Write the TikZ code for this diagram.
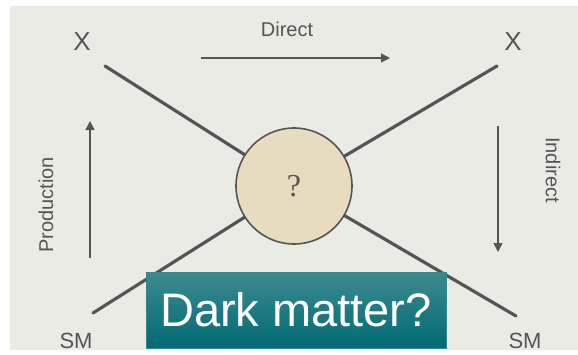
\documentclass[tikz,border=0pt]{standalone}
\usepackage{fontspec}
\setmainfont{Liberation Sans}
\usetikzlibrary{arrows.meta}
\definecolor{paper}{HTML}{EBEBE6}
\definecolor{ink}{HTML}{555555}
\definecolor{blob}{HTML}{E8DCC0}
\definecolor{tealtop}{HTML}{3E8A90}
\definecolor{tealbot}{HTML}{006A74}
\tikzset{
  leg/.style={draw=ink, line width=3.2pt, line cap=round},
  flow/.style={draw=ink, line width=1.3pt, -{Triangle[length=9pt,width=9pt]}},
  lab/.style={text=ink, font=\fontsize{20}{20}\selectfont, inner sep=0pt},
  big/.style={text=ink, font=\fontsize{26}{26}\selectfont, inner sep=0pt}
}
\begin{document}
\begin{tikzpicture}[x=1pt,y=-1pt]
\useasboundingbox (0,0) rectangle (578,354);
\fill[white] (0,0) rectangle (578,354);
\fill[paper] (10,6) rectangle (578,350);
% legs
\coordinate (tl) at (105,66);
\coordinate (tr) at (497,66);
\coordinate (bl) at (93,313);
\coordinate (br) at (516,316);
\node[circle, minimum size=116pt, inner sep=0pt] (c) at (294,186) {};
\draw[leg] (tl) -- (c.center);
\draw[leg] (tr) -- (c.center);
\draw[leg] (bl) -- (c.center);
\draw[leg] (br) -- (c.center);
\node[circle, minimum size=116pt, inner sep=0pt, fill=blob, draw=ink, line width=1.6pt,
      font=\fontspec{Liberation Serif}\fontsize{32}{32}\selectfont, text=ink] (c2) at (294,186) {?};
% labels
\node[big] (xl) at (82,42) {X};
\node[big] (xr) at (513,42) {X};
\node[lab] (dir) at (287,29) {Direct};
\node[lab, rotate=90] (prod) at (46,205) {Production};
\node[lab, rotate=-90] (ind) at (553,170) {Indirect};
\node[lab, font=\fontsize{22}{22}\selectfont] (sml) at (76,341) {SM};
\node[lab, font=\fontsize{22}{22}\selectfont] (smr) at (525,341) {SM};
% arrows
\coordinate (d1) at (201,58);
\coordinate (d2) at (390,58);
\draw[flow] (d1) -- (d2);
\coordinate (p1) at (90,258);
\coordinate (p2) at (90,121);
\draw[flow] (p1) -- (p2);
\coordinate (i1) at (498,126);
\coordinate (i2) at (498,252);
\draw[flow] (i1) -- (i2);
% dark matter box
\node[draw=tealbot!80!white, line width=0.8pt, top color=tealtop, bottom color=tealbot,
      minimum width=300pt, minimum height=76pt, inner sep=0pt,
      text=white, font=\fontsize{47}{47}\selectfont] (dm) at (296,310) {Dark matter?};
\end{tikzpicture}
\end{document}
